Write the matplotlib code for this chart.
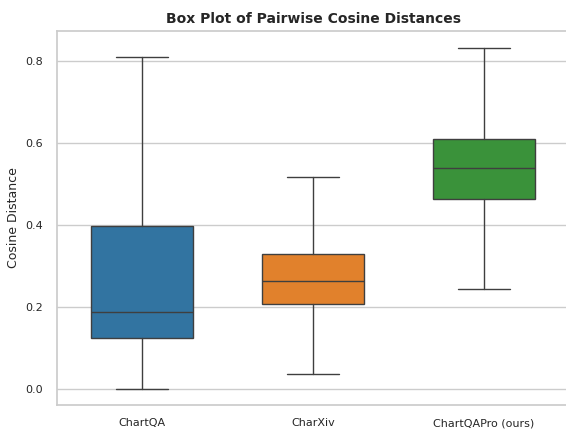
import matplotlib
matplotlib.use("Agg")
import matplotlib.pyplot as plt
import seaborn as sns

sns.set_theme(style="whitegrid")
plt.rcParams['font.family'] = ['DejaVu Sans']

categories = ["ChartQA", "CharXiv", "ChartQAPro (ours)"]
whislo = [0.000, 0.036, 0.244]
q1 = [0.124, 0.207, 0.463]
med = [0.188, 0.263, 0.539]
q3 = [0.397, 0.329, 0.610]
whishi = [0.810, 0.517, 0.831]
colors = ["#3274a1", "#e1812c", "#3a923a"]

stats = []
for i, c in enumerate(categories):
    stats.append(dict(label=c, whislo=whislo[i], q1=q1[i], med=med[i],
                      q3=q3[i], whishi=whishi[i], fliers=[]))

W, H = 566, 430
fig = plt.figure(figsize=(W / 100, H / 100), dpi=100)
ax = fig.add_axes([56.5 / W, 1 - 405 / H, (569.5 - 56.5) / W, (405 - 31) / H])

bp = ax.bxp(stats, positions=range(len(categories)), widths=0.6,
            patch_artist=True, showfliers=False,
            boxprops=dict(edgecolor="#3f3f3f", linewidth=1.0),
            medianprops=dict(color="#3f3f3f", linewidth=1.0),
            whiskerprops=dict(color="#3f3f3f", linewidth=1.0),
            capprops=dict(color="#3f3f3f", linewidth=1.0))
for patch, col in zip(bp["boxes"], colors):
    patch.set_facecolor(col)

ax.set_xlim(-0.5, 2.5)
ax.set_ylim(-0.039, 0.873)
ax.set_yticks([0.0, 0.2, 0.4, 0.6, 0.8])
ax.set_xticks(range(len(categories)))
ax.set_xticklabels(categories, fontsize=8)
ax.tick_params(axis="y", labelsize=8)
ax.xaxis.grid(False)
ax.set_ylabel("Cosine Distance", fontsize=9)
ax.set_title("Box Plot of Pairwise Cosine Distances", fontsize=10, fontweight="bold")

fig.savefig("out.png", dpi=100)
